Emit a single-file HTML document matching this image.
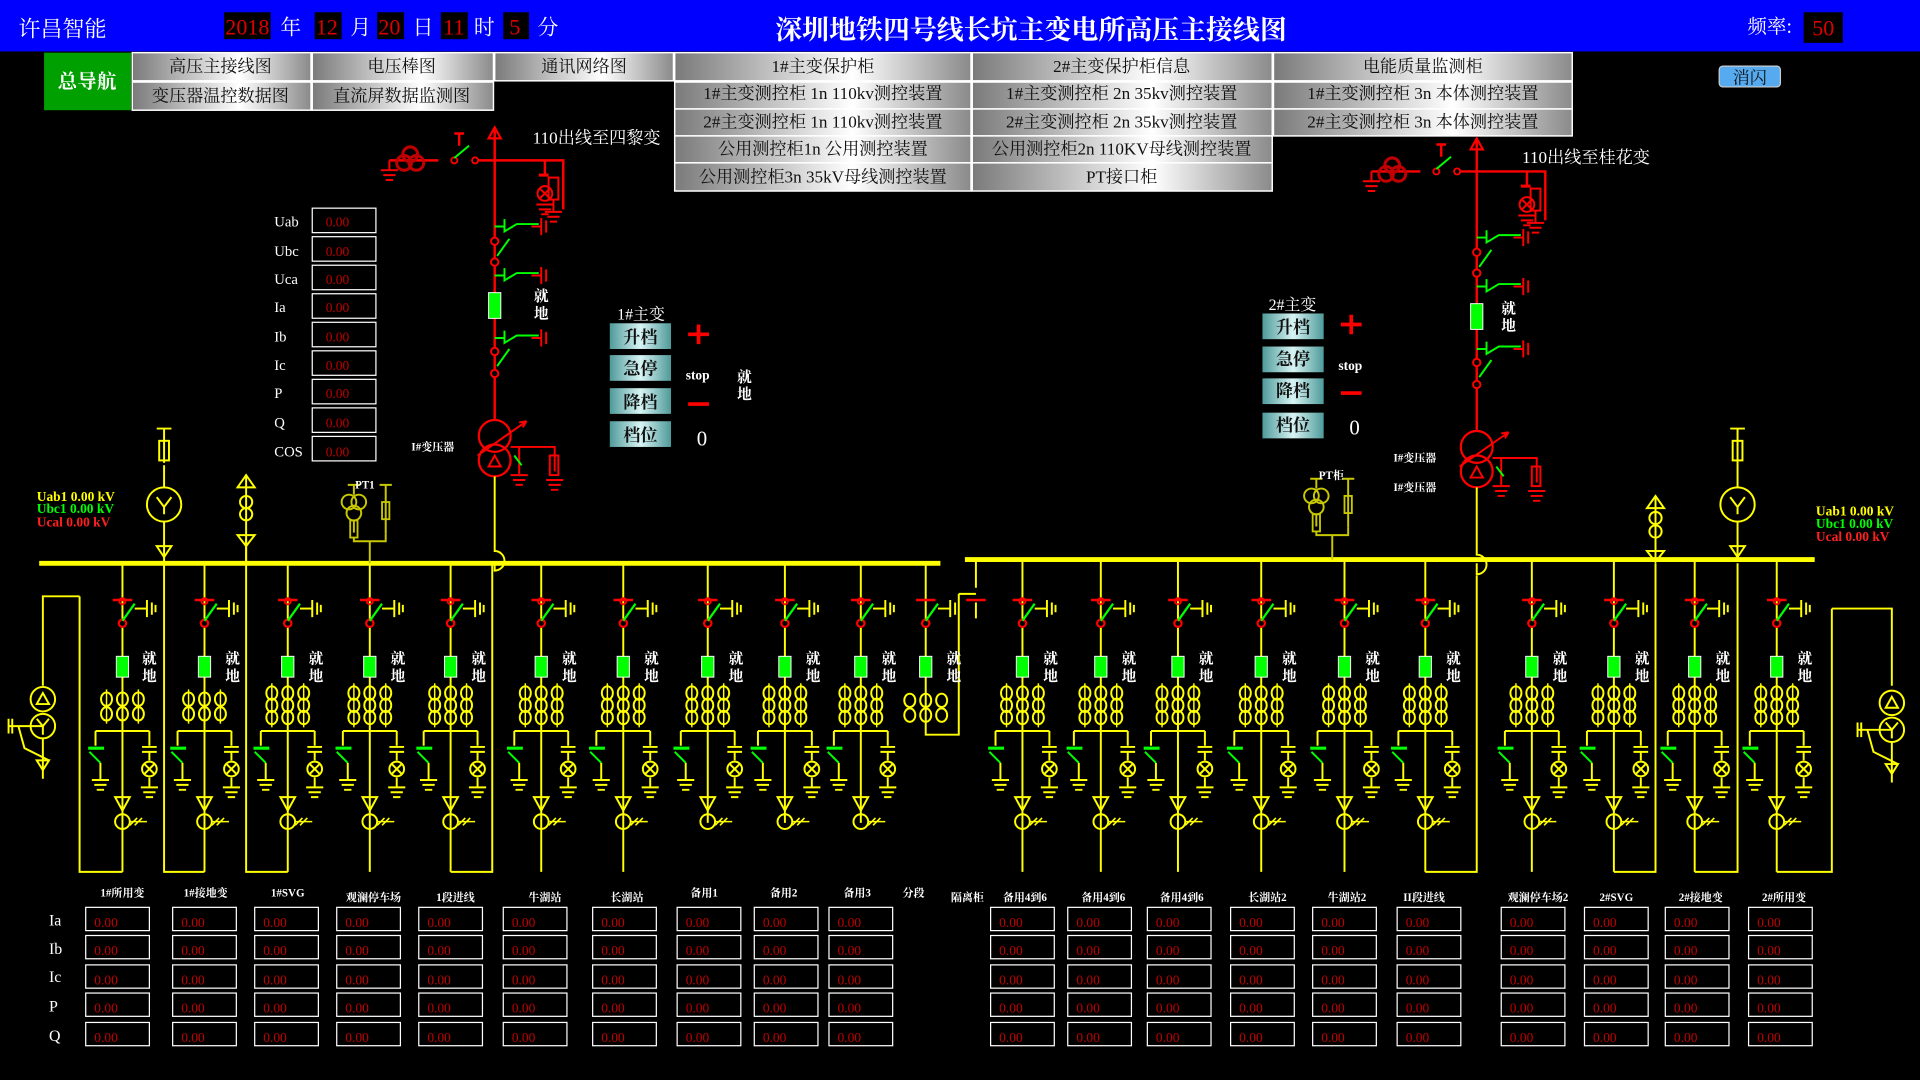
<!DOCTYPE html>
<html><head><meta charset="utf-8"><style>
html,body{margin:0;padding:0;background:#000;overflow:hidden}
svg{display:block}
text{font-family:"Liberation Serif","Noto Serif CJK SC","Noto Sans CJK SC",serif}
.w{fill:#fff}
.lab{fill:#fff;font-size:9px;font-weight:bold}
.val{fill:#c00000;font-size:11px}
.nav{fill:#111;font-size:14px;text-anchor:middle}
.bt{fill:#111;font-size:14px;font-weight:bold;text-anchor:middle}
</style></head><body>
<svg id="s" width="1920" height="1080" viewBox="0 0 1568 882" xmlns="http://www.w3.org/2000/svg">
<defs>
<linearGradient id="gg" x1="0" x2="1" y1="0" y2="0"><stop offset="0" stop-color="#7a7a7a"/><stop offset="0.6" stop-color="#ffffff"/><stop offset="1" stop-color="#8a8a8a"/></linearGradient>
<linearGradient id="tg" x1="0" x2="1" y1="0" y2="0"><stop offset="0" stop-color="#4f9a9a"/><stop offset="0.5" stop-color="#d8f4f4"/><stop offset="1" stop-color="#4f9a9a"/></linearGradient>
</defs>
<rect x="0" y="0" width="1568" height="882" fill="#000"/>
<rect x="0" y="0" width="1568" height="42" fill="#0000ff"/>
<text x="15" y="30" class="w" font-size="18">许昌智能</text>
<rect x="183" y="10" width="38" height="22" fill="#000"/><text x="184" y="28" fill="#d00" font-size="18">2018</text>
<text x="229" y="28" class="w" font-size="17">年</text>
<rect x="257" y="10" width="22" height="22" fill="#000"/><text x="258" y="28" fill="#d00" font-size="18">12</text>
<text x="286" y="28" class="w" font-size="17">月</text>
<rect x="308" y="10" width="22" height="22" fill="#000"/><text x="309" y="28" fill="#d00" font-size="18">20</text>
<text x="337" y="28" class="w" font-size="17">日</text>
<rect x="360" y="10" width="22" height="22" fill="#000"/><text x="362" y="28" fill="#d00" font-size="18">11</text>
<text x="387" y="28" class="w" font-size="17">时</text>
<rect x="411" y="10" width="21" height="22" fill="#000"/><text x="416" y="28" fill="#d00" font-size="18">5</text>
<text x="439" y="28" class="w" font-size="17">分</text>
<text x="842" y="32" class="w" font-size="22" font-weight="bold" text-anchor="middle">深圳地铁四号线长坑主变电所高压主接线图</text>
<text x="1427" y="27" class="w" font-size="16">频率:</text>
<rect x="1473" y="10" width="32" height="25" fill="#000"/><text x="1480" y="29" fill="#d00" font-size="18">50</text>

<rect x="36" y="43" width="71" height="47" fill="#00a000"/>
<text x="71" y="72" class="w" font-size="16" font-weight="bold" text-anchor="middle" font-family="Liberation Sans,Noto Sans CJK SC,sans-serif">总导航</text>
<g id="navs" stroke="#fff" stroke-width="1.2"></g>
<g font-size="14">
<text x="180" y="59" class="nav">高压主接线图</text>
<text x="328" y="59" class="nav">电压棒图</text>
<text x="477" y="59" class="nav">通讯网络图</text>
<text x="672" y="59" class="nav">1#主变保护柜</text>
<text x="916" y="59" class="nav">2#主变保护柜信息</text>
<text x="1162" y="59" class="nav">电能质量监测柜</text>
<text x="180" y="83" class="nav">变压器温控数据图</text>
<text x="328" y="83" class="nav">直流屏数据监测图</text>
<text x="672" y="81" class="nav">1#主变测控柜 1n 110kv测控装置</text>
<text x="916" y="81" class="nav">1#主变测控柜 2n 35kv测控装置</text>
<text x="1162" y="81" class="nav">1#主变测控柜 3n 本体测控装置</text>
<text x="672" y="104" class="nav">2#主变测控柜 1n 110kv测控装置</text>
<text x="916" y="104" class="nav">2#主变测控柜 2n 35kv测控装置</text>
<text x="1162" y="104" class="nav">2#主变测控柜 3n 本体测控装置</text>
<text x="672" y="126" class="nav">公用测控柜1n 公用测控装置</text>
<text x="916" y="126" class="nav">公用测控柜2n 110KV母线测控装置</text>
<text x="672" y="149" class="nav">公用测控柜3n 35kV母线测控装置</text>
<text x="916" y="149" class="nav">PT接口柜</text>
</g>
<rect x="1404" y="54" width="50" height="17" rx="3" fill="#55aaf0" stroke="#ccc"/>
<text x="1429" y="68" fill="#111" font-size="14" text-anchor="middle">消闪</text>

<g id="meas" fill="none" stroke="#fff" stroke-width="1"></g>
<g class="w" font-size="12">
<text x="224" y="185">Uab</text><text x="224" y="209">Ubc</text><text x="224" y="232">Uca</text><text x="224" y="255">Ia</text><text x="224" y="279">Ib</text><text x="224" y="302">Ic</text><text x="224" y="325">P</text><text x="224" y="349">Q</text><text x="224" y="373">COS</text>
</g>
<g class="val">
<text x="266" y="185">0.00</text><text x="266" y="209">0.00</text><text x="266" y="232">0.00</text><text x="266" y="255">0.00</text><text x="266" y="279">0.00</text><text x="266" y="302">0.00</text><text x="266" y="325">0.00</text><text x="266" y="349">0.00</text><text x="266" y="373">0.00</text>
</g>

<g id="draw"></g>

<text x="435" y="117" class="w" font-size="14">110出线至四黎变</text>
<text x="1243" y="133" class="w" font-size="14">110出线至桂花变</text>
<text x="436" y="246" class="w" font-size="12" font-weight="bold">就</text><text x="436" y="260" class="w" font-size="12" font-weight="bold">地</text>
<text x="1226" y="256" class="w" font-size="12" font-weight="bold">就</text><text x="1226" y="270" class="w" font-size="12" font-weight="bold">地</text>
<text x="336" y="368" class="lab">I#变压器</text>
<text x="1138" y="377" class="lab">I#变压器</text>
<text x="1138" y="401" class="lab">I#变压器</text>
<text x="290" y="399" class="lab">PT1</text>
<text x="1077" y="391" class="lab">PT柜</text>
<text x="504" y="261" class="w" font-size="13">1#主变</text>
<text x="1036" y="253" class="w" font-size="13">2#主变</text>
<g id="btns"></g>
<text x="523" y="280" class="bt">升档</text><text x="523" y="306" class="bt">急停</text><text x="523" y="333" class="bt">降档</text><text x="523" y="360" class="bt">档位</text>
<text x="1056" y="272" class="bt">升档</text><text x="1056" y="298" class="bt">急停</text><text x="1056" y="324" class="bt">降档</text><text x="1056" y="352" class="bt">档位</text>
<text x="560" y="310" class="w" font-size="11" font-weight="bold">stop</text>
<text x="1093" y="302" class="w" font-size="11" font-weight="bold">stop</text>
<text x="569" y="364" class="w" font-size="17">0</text>
<text x="1102" y="355" class="w" font-size="17">0</text>
<text x="602" y="312" class="w" font-size="12" font-weight="bold">就</text><text x="602" y="326" class="w" font-size="12" font-weight="bold">地</text>
<g font-size="11" font-weight="bold">
<text x="30" y="409" fill="#ffff00">Uab1 0.00 kV</text>
<text x="30" y="419" fill="#00ff00">Ubc1 0.00 kV</text>
<text x="30" y="430" fill="#ff2020">Ucal 0.00 kV</text>
<text x="1483" y="421" fill="#ffff00">Uab1 0.00 kV</text>
<text x="1483" y="431" fill="#00ff00">Ubc1 0.00 kV</text>
<text x="1483" y="442" fill="#ff2020">Ucal 0.00 kV</text>
</g>
<g class="w" font-size="12" font-weight="bold">
<text x="116" y="542">就</text><text x="116" y="556">地</text>
<text x="184" y="542">就</text><text x="184" y="556">地</text>
<text x="252" y="542">就</text><text x="252" y="556">地</text>
<text x="319" y="542">就</text><text x="319" y="556">地</text>
<text x="385" y="542">就</text><text x="385" y="556">地</text>
<text x="459" y="542">就</text><text x="459" y="556">地</text>
<text x="526" y="542">就</text><text x="526" y="556">地</text>
<text x="595" y="542">就</text><text x="595" y="556">地</text>
<text x="658" y="542">就</text><text x="658" y="556">地</text>
<text x="720" y="542">就</text><text x="720" y="556">地</text>
<text x="773" y="542">就</text><text x="773" y="556">地</text>
<text x="852" y="542">就</text><text x="852" y="556">地</text>
<text x="916" y="542">就</text><text x="916" y="556">地</text>
<text x="979" y="542">就</text><text x="979" y="556">地</text>
<text x="1047" y="542">就</text><text x="1047" y="556">地</text>
<text x="1115" y="542">就</text><text x="1115" y="556">地</text>
<text x="1181" y="542">就</text><text x="1181" y="556">地</text>
<text x="1268" y="542">就</text><text x="1268" y="556">地</text>
<text x="1335" y="542">就</text><text x="1335" y="556">地</text>
<text x="1401" y="542">就</text><text x="1401" y="556">地</text>
<text x="1468" y="542">就</text><text x="1468" y="556">地</text>
</g>
<g class="lab" text-anchor="middle">
<text x="100" y="732">1#所用变</text><text x="168" y="732">1#接地变</text><text x="235" y="732">1#SVG</text>
<text x="305" y="736">观澜停车场</text><text x="372" y="736">1段进线</text><text x="445" y="736">牛湖站</text>
<text x="512" y="736">长湖站</text><text x="575" y="732">备用1</text><text x="640" y="732">备用2</text>
<text x="700" y="732">备用3</text><text x="746" y="732">分段</text>
<text x="790" y="736">隔离柜</text><text x="837" y="736">备用4到6</text><text x="901" y="736">备用4到6</text>
<text x="965" y="736">备用4到6</text><text x="1035" y="736">长湖站2</text><text x="1100" y="736">牛湖站2</text>
<text x="1163" y="736">II段进线</text><text x="1256" y="736">观澜停车场2</text><text x="1320" y="736">2#SVG</text>
<text x="1389" y="736">2#接地变</text><text x="1457" y="736">2#所用变</text>
</g>
<g class="w" font-size="13">
<text x="40" y="756">Ia</text><text x="40" y="779">Ib</text><text x="40" y="802">Ic</text><text x="40" y="826">P</text><text x="40" y="850">Q</text>
</g>
<g id="tbl" fill="none" stroke="#fff" stroke-width="1"></g>
<g class="val">
<text x="77" y="757">0.00</text><text x="148" y="757">0.00</text><text x="215" y="757">0.00</text><text x="282" y="757">0.00</text><text x="349" y="757">0.00</text><text x="418" y="757">0.00</text><text x="491" y="757">0.00</text><text x="560" y="757">0.00</text><text x="623" y="757">0.00</text><text x="684" y="757">0.00</text>
<text x="816" y="757">0.00</text><text x="879" y="757">0.00</text><text x="944" y="757">0.00</text><text x="1012" y="757">0.00</text><text x="1079" y="757">0.00</text><text x="1148" y="757">0.00</text><text x="1233" y="757">0.00</text><text x="1301" y="757">0.00</text><text x="1367" y="757">0.00</text><text x="1435" y="757">0.00</text>
<text x="77" y="780">0.00</text><text x="148" y="780">0.00</text><text x="215" y="780">0.00</text><text x="282" y="780">0.00</text><text x="349" y="780">0.00</text><text x="418" y="780">0.00</text><text x="491" y="780">0.00</text><text x="560" y="780">0.00</text><text x="623" y="780">0.00</text><text x="684" y="780">0.00</text>
<text x="816" y="780">0.00</text><text x="879" y="780">0.00</text><text x="944" y="780">0.00</text><text x="1012" y="780">0.00</text><text x="1079" y="780">0.00</text><text x="1148" y="780">0.00</text><text x="1233" y="780">0.00</text><text x="1301" y="780">0.00</text><text x="1367" y="780">0.00</text><text x="1435" y="780">0.00</text>
<text x="77" y="804">0.00</text><text x="148" y="804">0.00</text><text x="215" y="804">0.00</text><text x="282" y="804">0.00</text><text x="349" y="804">0.00</text><text x="418" y="804">0.00</text><text x="491" y="804">0.00</text><text x="560" y="804">0.00</text><text x="623" y="804">0.00</text><text x="684" y="804">0.00</text>
<text x="816" y="804">0.00</text><text x="879" y="804">0.00</text><text x="944" y="804">0.00</text><text x="1012" y="804">0.00</text><text x="1079" y="804">0.00</text><text x="1148" y="804">0.00</text><text x="1233" y="804">0.00</text><text x="1301" y="804">0.00</text><text x="1367" y="804">0.00</text><text x="1435" y="804">0.00</text>
<text x="77" y="827">0.00</text><text x="148" y="827">0.00</text><text x="215" y="827">0.00</text><text x="282" y="827">0.00</text><text x="349" y="827">0.00</text><text x="418" y="827">0.00</text><text x="491" y="827">0.00</text><text x="560" y="827">0.00</text><text x="623" y="827">0.00</text><text x="684" y="827">0.00</text>
<text x="816" y="827">0.00</text><text x="879" y="827">0.00</text><text x="944" y="827">0.00</text><text x="1012" y="827">0.00</text><text x="1079" y="827">0.00</text><text x="1148" y="827">0.00</text><text x="1233" y="827">0.00</text><text x="1301" y="827">0.00</text><text x="1367" y="827">0.00</text><text x="1435" y="827">0.00</text>
<text x="77" y="851">0.00</text><text x="148" y="851">0.00</text><text x="215" y="851">0.00</text><text x="282" y="851">0.00</text><text x="349" y="851">0.00</text><text x="418" y="851">0.00</text><text x="491" y="851">0.00</text><text x="560" y="851">0.00</text><text x="623" y="851">0.00</text><text x="684" y="851">0.00</text>
<text x="816" y="851">0.00</text><text x="879" y="851">0.00</text><text x="944" y="851">0.00</text><text x="1012" y="851">0.00</text><text x="1079" y="851">0.00</text><text x="1148" y="851">0.00</text><text x="1233" y="851">0.00</text><text x="1301" y="851">0.00</text><text x="1367" y="851">0.00</text><text x="1435" y="851">0.00</text>
</g>
</svg>
<script>
(function(){
var NS="http://www.w3.org/2000/svg";
function el(p,t,a){var e=document.createElementNS(NS,t);for(var k in a)e.setAttribute(k,a[k]);p.appendChild(e);return e;}
var nav=document.getElementById('navs');
function nb(x1,x2,y1,y2){el(nav,'rect',{x:x1,y:y1,width:x2-x1,height:y2-y1,fill:'url(#gg)'});}
try{
nb(108,254,43,66);nb(255,403,43,66);nb(404,550,43,66);nb(551,793,43,66);nb(794,1039,43,66);nb(1040,1284,43,66);
nb(108,254,67,90);nb(255,403,67,90);
[[67,89],[89,111],[111,133],[133,156]].forEach(function(r,i){nb(551,793,r[0],r[1]);nb(794,1039,r[0],r[1]);if(i<2)nb(1040,1284,r[0],r[1]);});
var m=document.getElementById('meas');
for(var i=0;i<9;i++)el(m,'rect',{x:255,y:170+i*23.3,width:52,height:20});
var b=document.getElementById('btns');
[264,290,317,344].forEach(function(y){el(b,'rect',{x:498,y:y,width:50,height:21,fill:'url(#tg)'});});
[256,283,309,337].forEach(function(y){el(b,'rect',{x:1031,y:y,width:50,height:21,fill:'url(#tg)'});});
el(b,'path',{d:'M562 273h17M570.5 265v16M562 330h17M1095 265h17M1103.5 257v16M1095 321h17',stroke:'#f00','stroke-width':3});
var t=document.getElementById('tbl');
var cl=[70,141,208,275,342,411,484,553,616,677,809,872,937,1005,1072,1141,1226,1294,1360,1428];
cl.forEach(function(x){[741,764,788,811,835].forEach(function(y){el(t,'rect',{x:x,y:y,width:52,height:19});});});
}catch(e){}

var D=document.getElementById('draw');
var Y='#ffff00',R='#ff0000',G='#00ff00';
function ln(d,c,w){el(D,'path',{d:d,stroke:c,'stroke-width':w||1.6,fill:'none'});}
function ci(x,y,r,c,w,f){el(D,'circle',{cx:x,cy:y,r:r,stroke:c,'stroke-width':w||1.6,fill:f||'none'});}
function gnd(x,y,c){ln('M'+(x-7)+' '+y+'h14M'+(x-5)+' '+(y+4)+'h10M'+(x-3)+' '+(y+8)+'h6',c);}
function lamp(x,y,c){ci(x,y,6,c);ln('M'+(x-4)+' '+(y-4)+'l8 8M'+(x+4)+' '+(y-4)+'l-8 8',c);}
function feeder(x,by,rows,low){
  ln('M'+x+' '+by+'V'+(low||712),Y);
  ln('M'+(x-8)+' 490h16',R,2);ci(x,491,2.5,R,1.5);ci(x,509,3,R,1.8,'#000');
  ln('M'+x+' 507l10 -14',G,1.8);ln('M'+(x+10)+' 497h10',Y);
  ln('M'+(x+20)+' 490v14M'+(x+24)+' 492v10M'+(x+27)+' 494v6',Y);
  el(D,'rect',{x:x-5,y:536,width:10,height:17,fill:G,stroke:'#fff','stroke-width':0.8});
  var ys=rows==2?[571,583]:[566,576,586];
  [-13,0,13].forEach(function(dx){ys.forEach(function(yy){el(D,'ellipse',{cx:x+dx,cy:yy,rx:4.5,ry:5.5,stroke:Y,'stroke-width':1.6,fill:'none'});});ln('M'+(x+dx)+' '+(ys[0]-8)+'V'+(ys[ys.length-1]+8),Y,1.2);});
  ln('M'+(x-22)+' 597h44M'+(x+22)+' 597v12M'+(x+16)+' 610h12M'+(x+16)+' 614h12M'+(x+22)+' 614v7M'+(x+22)+' 635v8',Y);
  lamp(x+22,628,Y);gnd(x+22,643,Y);
  ln('M'+(x-22)+' 597v12',Y);ln('M'+(x-28)+' 611h13',G,2.5);ln('M'+(x-27)+' 614l9 9',G);ln('M'+(x-18)+' 623V637',Y);gnd(x-18,637,Y);
  ln('M'+(x-6)+' 651h12l-6 11z',Y);ci(x,671,6,Y);ln('M'+(x+6)+' 674l6 -6M'+(x+10)+' 674l6 -6M'+(x+6)+' 671h14',Y,1.3);
}
try{
ln('M32 460H768',Y,4);ln('M788 457H1482',Y,4);
[100,167,235,302,368,442,509,578,641,703].forEach(function(x,i){feeder(x,460,i<2?2:3,i>=7?672:712);});
[835,899,962,1030,1098,1164,1251,1318,1384,1451].forEach(function(x){feeder(x,457,3,712);});
}catch(e){}
try{
var x=756;ln('M'+x+' 460V600H783V485',Y);ln('M'+(x-8)+' 490h16',R,2);ci(x,509,3,R,1.8,'#000');ln('M'+x+' 507l10 -14',G,1.8);ln('M'+(x+10)+' 497h10M'+(x+20)+' 490v14M'+(x+24)+' 492v10',Y);
el(D,'rect',{x:x-5,y:536,width:10,height:17,fill:G,stroke:'#fff','stroke-width':0.8});
[-13,0,13].forEach(function(dx){[572,584].forEach(function(yy){el(D,'ellipse',{cx:x+dx,cy:yy,rx:4.5,ry:5.5,stroke:Y,'stroke-width':1.6,fill:'none'});});});
var x2=797;ln('M'+x2+' 457V480',Y);ln('M'+(x2-8)+' 490h16',R,2);ln('M'+x2+' 492V505',Y);ln('M783 485h14',Y);
ln('M65 487H35V560M65 487V712H100',Y);ln('M134 460V712H167',Y);ln('M201 440V712H235',Y);ln('M402 460V712H368',Y);
ln('M1206 470V712H1164',Y);ln('M1352 460V712H1318',Y);ln('M1419 460V712H1384',Y);ln('M1496 497H1545V560M1496 497V712H1451',Y);
}catch(e){}
function aux(x,y){ci(x,y,10,Y);ln('M'+(x-5)+' '+(y+4)+'h10l-5 -9z',Y);ci(x,y+22,10,Y);ln('M'+x+' '+(y+22)+'v7M'+x+' '+(y+22)+'l-5 -6M'+x+' '+(y+22)+'l5 -6',Y);
 ln('M'+x+' '+(y+32)+'V'+(y+65)+'M'+(x-5)+' '+(y+50)+'h10l-5 8z',Y);ln('M'+(x-28)+' '+(y+22)+'h28M'+(x-28)+' '+(y+16)+'v12M'+(x-25)+' '+(y+16)+'v12M'+(x-20)+' '+(y+22)+'l5 18 l20 10',Y);}
try{
aux(35,571);aux(1545,574);
ci(134,412,14,Y);ln('M128 406l6 8 6-8M134 414v6M134 380V398M134 350v28M128 350h12',Y);el(D,'rect',{x:130,y:360,width:8,height:16,fill:'none',stroke:Y,'stroke-width':1.6});ln('M128 446h12l-6 9z',Y);ln('M134 426V460',Y);
ln('M194 398h14l-7 -10zM194 437h14l-7 9zM201 388V460',Y);ci(201,410,5,Y);ci(201,420,5,Y);
ci(1419,412,14,Y);ln('M1413 406l6 8 6-8M1419 414v6M1419 350v48M1413 350h12',Y);el(D,'rect',{x:1415,y:360,width:8,height:16,fill:'none',stroke:Y,'stroke-width':1.6});ln('M1413 446h12l-6 9zM1419 426V457',Y);
ln('M1345 415h14l-7 -10zM1345 450h14l-7 9zM1352 405V457',Y);ci(1352,423,5,Y);ci(1352,434,5,Y);
}catch(e){}
var O='#c8c800';
function pt(x,y,by){ci(x-3,y,6,O);ci(x+5,y,6,O);ci(x+1,y+9,6,O);ln('M'+(x+1)+' '+(y+15)+'v10M'+(x+1)+' '+(y-6)+'v-8M'+(x-4)+' '+(y-14)+'h10',O);el(D,'rect',{x:x-2,y:y+15,width:6,height:14,fill:'none',stroke:O,'stroke-width':1.5});
 ln('M'+(x+27)+' '+(y-14)+'v40M'+(x+22)+' '+(y-14)+'h10',O);el(D,'rect',{x:x+24,y:y,width:6,height:14,fill:'none',stroke:O,'stroke-width':1.5});ln('M'+(x+1)+' '+(y+29)+'v3h26v-6M'+(x+14)+' '+(y+32)+'V'+by,O);}
try{pt(288,410,460);pt(1074,405,457);}catch(e){}
function topSec(x,dy){
  ln('M'+x+' '+(105+dy)+'V'+(343+dy),R,2);ln('M'+(x-5)+' '+(113+dy)+'h10l-5 -9z',R,1.8);
  var hy=131+dy;
  ln('M'+(x-86)+' '+hy+'h40M'+(x-14)+' '+hy+'h70v40M'+(x+41)+' '+hy+'v12',R,2);
  ci(x-16,hy,2.5,R,1.5,'#000');ci(x-33,hy,2.5,R,1.5,'#000');ln('M'+(x-33)+' '+(hy-2)+'l12 -10',G,1.6);
  ln('M'+(x-29)+' '+(hy-12)+'v-10M'+(x-33)+' '+(hy-22)+'h8',R,2);
  ci(x-69,hy-5,6,'#c00000',2.5);ci(x-74,hy+2,6,'#c00000',2.5);ci(x-64,hy+2,6,'#c00000',2.5);
  ln('M'+(x-86)+' '+hy+'v8',R);gnd(x-86,hy+8,R);
  el(D,'rect',{x:x+44,y:hy+14,width:8,height:18,fill:'none',stroke:R,'stroke-width':1.6});
  ln('M'+(x+36)+' '+(hy+12)+'h8',R,2.5);lamp(x+41,hy+27,R);gnd(x+41,hy+36,R);gnd(x+48,hy+42,R);ln('M'+(x+48)+' '+(hy+32)+'v10',R);
  [185,225,276].forEach(function(yy){yy+=dy;ln('M'+x+' '+yy+'h8M'+(x+8)+' '+(yy-6)+'v10l10 -6h18',G,1.6);ln('M'+(x+30)+' '+yy+'h8M'+(x+38)+' '+(yy-7)+'v14M'+(x+42)+' '+(yy-5)+'v10',R,1.6);});
  [197,214,287,305].forEach(function(yy,i){ci(x,yy+dy,3,R,1.6,'#000');if(i%2==0)ln('M'+(x+2)+' '+(yy+dy+12)+'l10 -14',G,1.6);});
  el(D,'rect',{x:x-5,y:239+dy,width:10,height:21,fill:G,stroke:'#fff','stroke-width':0.8});
  ci(x,356+dy,13,R,1.8);ci(x,376+dy,13,R,1.8);ln('M'+(x-5)+' '+(381+dy)+'h10l-5 -9z',R);
  ln('M'+(x-14)+' '+(372+dy)+'l40 -28l-6 1m6 -1l-3 5',R);
  ln('M'+(x+13)+' '+(365+dy)+'h36v20M'+(x+20)+' '+(365+dy)+'v22',R);ln('M'+(x+16)+' '+(372+dy)+'l6 8',G);
  el(D,'rect',{x:x+45,y:372+dy,width:7,height:16,fill:'none',stroke:R,'stroke-width':1.6});gnd(x+20,388+dy,R);gnd(x+49,392+dy,R);
  ln('M'+x+' '+(389+dy)+'V'+(450+dy-(dy>0?6:0))+'a8 8 0 0 1 0 16V'+(460),Y);
}
try{topSec(404,0);}catch(e){}
try{topSec(1206,9);}catch(e){}
})();
</script>
</body></html>
